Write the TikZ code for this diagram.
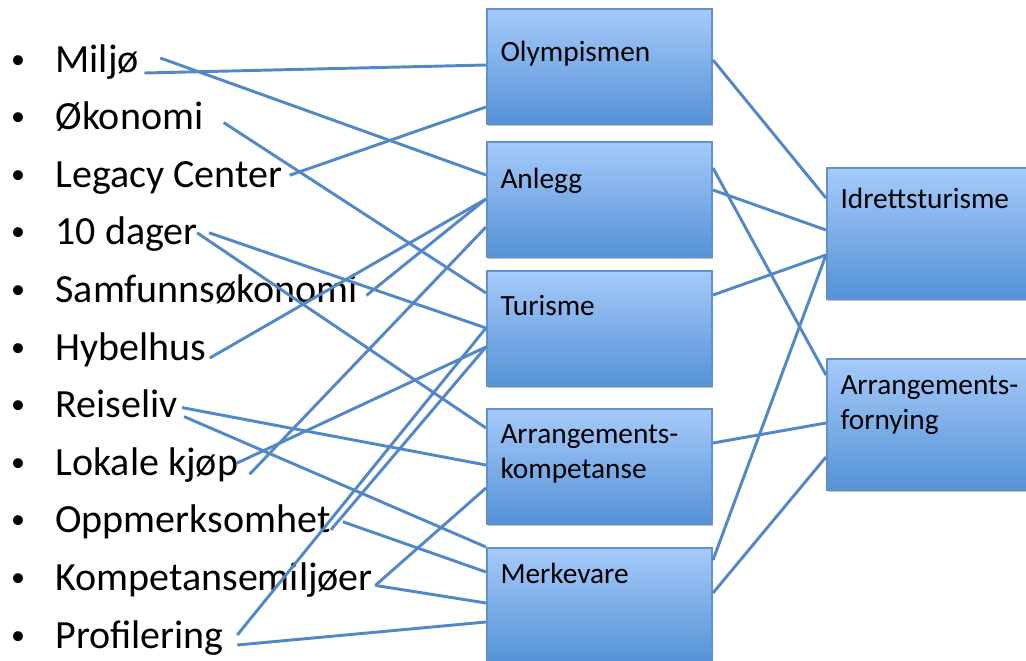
\documentclass[tikz,border=0pt]{standalone}
\usepackage{fontspec}
\setmainfont{Carlito}
\usetikzlibrary{calc,shadows}

\definecolor{linkblue}{RGB}{82,136,198}
\definecolor{boxtop}{RGB}{166,202,250}
\definecolor{boxbottom}{RGB}{84,146,214}
\definecolor{boxline}{RGB}{98,146,206}

\tikzset{every picture/.style={line width=0.75pt}}
\tikzset{
  box/.style={draw=boxline, line width=1.5pt, top color=boxtop, bottom color=boxbottom,
    anchor=north west, inner sep=0pt,
    drop shadow={shadow xshift=0.8pt, shadow yshift=-1.6pt, opacity=0.25, fill=black}},
  midbox/.style={box, minimum width=168.75pt, minimum height=86.25pt},
  sidebox/.style={box, minimum width=161.25pt, minimum height=98pt},
  boxtext/.style={anchor=base west, inner sep=0pt, align=left,
    font=\fontsize{22}{26.25}\selectfont},
  item/.style={anchor=base west, inner sep=0pt, font=\fontsize{30}{36}\selectfont},
  dot/.style={anchor=base, inner sep=0pt, font=\fontsize{21}{25}\selectfont},
  link/.style={draw=linkblue, line width=2.2pt}
}

\begin{document}
\begin{tikzpicture}[x=0.75pt,y=0.75pt,yscale=-1,xscale=1]
	\useasboundingbox (0,0) rectangle (1026,661);

	%Shape: Rectangle (middle column)
	\node[midbox] (olymp) at (486,8) {};
	\node[midbox] (anlegg) at (486,141) {};
	\node[midbox] (turisme) at (486,270) {};
	\node[midbox] (arrkomp) at (486,408) {};
	\node[midbox] (merkevare) at (486,547) {};
	%Shape: Rectangle (right column)
	\node[sidebox] (idrett) at (826,167) {};
	\node[sidebox] (forny) at (826,358) {};

	% Text Node
	\node[boxtext] (olymp-txt) at ($(olymp.north west)+(14,53)$) {Olympismen};
	\node[boxtext] (anlegg-txt) at ($(anlegg.north west)+(14,47)$) {Anlegg};
	\node[boxtext] (turisme-txt) at ($(turisme.north west)+(14,45)$) {Turisme};
	\node[boxtext] (arrkomp-txt) at ($(arrkomp.north west)+(14,70)$) {Arrangements-\\kompetanse};
	\node[boxtext] (merkevare-txt) at ($(merkevare.north west)+(14,36)$) {Merkevare};
	\node[boxtext] (idrett-txt) at ($(idrett.north west)+(14,41)$) {Idrettsturisme};
	\node[boxtext] (forny-txt) at ($(forny.north west)+(14,71)$) {Arrangements-\\fornying};

	% Text Node (bullet list)
	\foreach \i/\nm/\txt in {0/miljo/Miljø, 1/okonomi/Økonomi, 2/legacy/Legacy Center,
	    3/dager/10 dager, 4/samf/Samfunnsøkonomi, 5/hybel/Hybelhus, 6/reiseliv/Reiseliv,
	    7/lokale/Lokale kjøp, 8/oppm/Oppmerksomhet, 9/kompm/Kompetansemiljøer,
	    10/profil/Profilering}{
	  \node[dot] (\nm-dot) at (18,68+57.6*\i) {\textbullet};
	  \node[item] (\nm) at (55,72+57.6*\i) {\txt};
	}

	%Straight Lines (list to middle column)
	\draw[link] ($(miljo.base east)+(5,1)$) -- ($(olymp.north west)+(0,57)$);
	\draw[link] ($(miljo.base east)+(21,-14)$) -- ($(anlegg.north west)+(0,34)$);
	\draw[link] ($(okonomi.base east)+(20,-7)$) -- ($(turisme.north west)+(0,23)$);
	\draw[link] ($(legacy.base east)+(7,-12)$) -- ($(olymp.north west)+(0,99)$);
	\draw[link] ($(dager.base east)+(11,-12)$) -- ($(turisme.north west)+(0,58)$);
	\draw[link] ($(dager.base east)+(-1,-12)$) -- ($(arrkomp.north west)+(0,20)$);
	\draw[link] ($(samf.base east)+(8,-7)$) -- ($(anlegg.north west)+(0,58)$);
	\draw[link] ($(hybel.base east)+(3,-2)$) -- ($(anlegg.north west)+(0,58)$);
	\draw[link] ($(reiseliv.base east)+(4,-10)$) -- ($(arrkomp.north west)+(0,57)$);
	\draw[link] ($(reiseliv.base east)+(6,-1)$) -- ($(merkevare.north west)+(0,0)$);
	\draw[link] ($(lokale.base east)+(-2,-12)$) -- ($(turisme.north west)+(0,77)$);
	\draw[link] ($(lokale.base east)+(11,-1)$) -- ($(anlegg.north west)+(0,86)$);
	\draw[link] ($(oppm.base east)+(12,-11)$) -- ($(merkevare.north west)+(0,25)$);
	\draw[link] ($(oppm.base east)+(0,-3)$) -- ($(turisme.north west)+(0,77)$);
	\draw[link] ($(kompm.base east)+(2,-5)$) -- ($(arrkomp.north west)+(0,80)$);
	\draw[link] ($(kompm.base east)+(2,-5)$) -- ($(merkevare.north west)+(0,56)$);
	\draw[link] ($(profil.base east)+(13,-13)$) -- ($(turisme.north west)+(0,58)$);
	\draw[link] ($(profil.base east)+(13,-3)$) -- ($(merkevare.north west)+(0,75)$);

	%Straight Lines (middle column to right column)
	\draw[link] ($(olymp.north east)+(0,52)$) -- ($(idrett.north west)+(0,31)$);
	\draw[link] ($(anlegg.north east)+(0,27)$) -- ($(forny.north west)+(0,17)$);
	\draw[link] ($(anlegg.north east)+(0,49)$) -- ($(idrett.north west)+(0,63)$);
	\draw[link] ($(turisme.north east)+(0,25)$) -- ($(idrett.north west)+(0,88)$);
	\draw[link] ($(arrkomp.north east)+(0,35)$) -- ($(forny.north west)+(0,65)$);
	\draw[link] ($(merkevare.north east)+(0,13)$) -- ($(idrett.north west)+(0,88)$);
	\draw[link] ($(merkevare.north east)+(0,46)$) -- ($(forny.north west)+(0,99)$);

\end{tikzpicture}
\end{document}
